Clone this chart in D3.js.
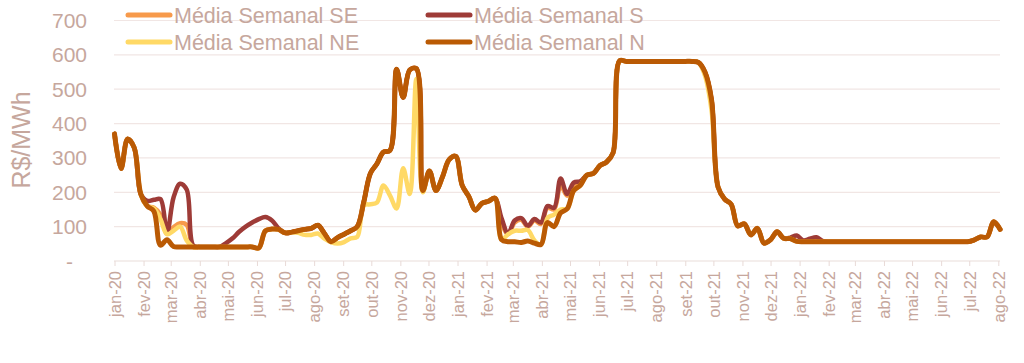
<!DOCTYPE html>
<html>
<head>
<meta charset="utf-8">
<script src="https://cdn.jsdelivr.net/npm/d3@7"></script>
<style>
  body { margin: 0; background: #fff; }
  svg { display: block; font-family: "Liberation Sans", Arial, sans-serif; }
</style>
</head>
<body>
<svg class="chart" width="1024" height="363"></svg>
<script>
// weekly averages, one point per week starting 2020-01-01
var startDate = new Date(2020, 0, 1);

var mediaSE = [370,269,355,330,195,160,155,135,80,98,
  110,105,41,41,41,41,41,41,41,41,
  41,41,38,88,93,92,82,84,88,92,
  95,104,80,56,68,78,88,100,172,255,
  283,317,322,558,476,556,560,205,262,205,
  245,295,305,220,188,148,168,174,183,110,
  78,112,120,100,118,108,155,150,220,190,
  220,228,250,255,278,288,315,583,581,581,
  581,581,581,581,581,581,581,581,581,578,
  550,470,215,180,165,102,108,76,95,52,
  62,85,66,65,57,56,56,56,56,56,
  56,56,56,56,56,56,56,56,56,56,
  56,56,56,56,56,56,56,56,56,56,
  56,61,70,70,114,92];

var mediaS = [370,269,355,330,195,175,178,180,82,185,
  225,208,45,41,41,41,41,52,66,85,
  100,112,122,128,118,95,82,84,88,92,
  95,104,80,56,68,78,88,100,172,255,
  283,317,322,558,476,556,560,205,262,205,
  245,295,305,220,188,148,168,174,183,124,
  80,118,125,102,122,112,160,155,240,195,
  228,232,250,255,278,288,315,583,581,581,
  581,581,581,581,581,581,581,581,581,578,
  550,470,215,180,165,102,108,76,95,52,
  62,85,66,68,74,60,65,69,58,56,
  56,56,56,56,56,56,56,56,56,56,
  56,56,56,56,56,56,56,56,56,56,
  56,61,70,70,114,92];

var mediaNE = [370,269,355,330,195,160,153,122,78,88,
  100,60,41,41,41,41,41,41,41,41,
  41,41,38,88,93,92,82,84,82,76,
  76,80,65,55,51,55,66,70,162,165,
  170,220,190,153,270,195,530,200,262,205,
  245,295,305,220,188,148,168,174,183,62,
  78,88,88,90,60,48,125,135,150,152,
  205,220,250,255,278,288,315,583,581,581,
  581,581,581,581,581,581,581,581,581,578,
  540,440,215,180,165,102,108,76,95,52,
  62,85,66,65,57,56,56,56,56,56,
  56,56,56,56,56,56,56,56,56,56,
  56,56,56,56,56,56,56,56,56,56,
  56,61,70,70,114,92];

var mediaN = [370,269,355,330,195,160,145,46,62,42,
  41,41,41,41,41,41,41,41,41,41,
  41,41,38,88,93,92,82,84,88,92,
  95,104,80,56,68,78,88,100,172,255,
  283,317,322,558,476,556,560,205,262,205,
  245,295,305,220,188,148,168,174,183,62,
  56,56,54,58,52,48,112,100,140,152,
  205,220,250,255,278,288,315,583,581,581,
  581,581,581,581,581,581,581,581,581,578,
  550,470,215,180,165,102,108,76,95,52,
  62,85,66,65,57,56,56,56,56,56,
  56,56,56,56,56,56,56,56,56,56,
  56,56,56,56,56,56,56,56,56,56,
  56,61,70,70,114,92];

var seriesNames = ["Média Semanal SE", "Média Semanal S", "Média Semanal NE", "Média Semanal N"];
var monthNames = ["jan","fev","mar","abr","mai","jun","jul","ago","set","out","nov","dez"];
var yTicks = [0,100,200,300,400,500,600,700];

var colors = ["#F79A4B", "#9E3B37", "#FFD966", "#BA5A04"];
var textColor = "#C6A79D";
var gridColor = "#F1E6E4";

var svg = d3.select(".chart");

var x = d3.scaleTime()
  .domain([new Date(2020, 0, 1), new Date(2022, 7, 1)])
  .range([114.5, 998.3]);
var y = d3.scaleLinear().domain([0, 700]).range([261, 20.5]);

var weekDate = function(i) { return d3.timeDay.offset(startDate, i * 7); };

// gridlines
svg.append("g").selectAll("line").data(yTicks).enter().append("line")
  .attr("x1", 114).attr("x2", 1000)
  .attr("y1", function(d) { return y(d); }).attr("y2", function(d) { return y(d); })
  .attr("stroke", function(d) { return d == 0 ? "#EADDDA" : gridColor; })
  .attr("stroke-width", 1.2);

// y labels
svg.append("g").selectAll("text").data(yTicks).enter().append("text")
  .attr("x", function(d) { return d == 0 ? 73 : 87; })
  .attr("y", function(d) { return y(d); })
  .attr("dy", "0.36em")
  .attr("text-anchor", "end")
  .attr("font-size", 21)
  .attr("fill", textColor)
  .text(function(d) { return d == 0 ? "-" : d; });

svg.append("text")
  .attr("transform", "translate(30,140) rotate(-90)")
  .attr("text-anchor", "middle")
  .attr("font-size", 25)
  .attr("fill", textColor)
  .text("R$/MWh");

// x axis
var xAxis = d3.axisBottom(x)
  .ticks(d3.timeMonth.every(1))
  .tickSize(5)
  .tickFormat(function(d) { return monthNames[d.getMonth()] + "-" + String(d.getFullYear()).slice(2); });

var gx = svg.append("g").attr("transform", "translate(0,261)").call(xAxis);
gx.select(".domain").remove();
gx.selectAll(".tick line").attr("stroke", "#E8DAD7");
gx.selectAll(".tick text")
  .attr("font-family", "Liberation Sans, Arial, sans-serif")
  .attr("font-size", 16.5)
  .attr("fill", textColor)
  .attr("text-anchor", "end")
  .attr("transform", "rotate(-90)")
  .attr("x", -10)
  .attr("y", 0)
  .attr("dy", "0.35em");

// lines
var allSeries = [mediaSE, mediaS, mediaNE, mediaN];
var line = d3.line()
  .x(function(d, i) { return x(weekDate(i)); })
  .y(function(d) { return y(d); })
  .curve(d3.curveCatmullRom.alpha(0.5));

svg.append("g").selectAll("path").data(allSeries).enter().append("path")
  .attr("d", line)
  .attr("fill", "none")
  .attr("stroke", function(d, i) { return colors[i]; })
  .attr("stroke-width", function(d, i) { return i == 3 ? 5 : 4.5; })
  .attr("stroke-linejoin", "round")
  .attr("stroke-linecap", "round");

// legend
var legendPos = [[128, 15], [428, 15], [128, 42], [428, 42]];
var lg = svg.append("g").selectAll("g").data(seriesNames).enter().append("g")
  .attr("transform", function(d, i) { return "translate(" + legendPos[i][0] + "," + legendPos[i][1] + ")"; });
lg.append("line")
  .attr("x1", 0).attr("x2", 42).attr("y1", 0).attr("y2", 0)
  .attr("stroke", function(d, i) { return colors[i]; })
  .attr("stroke-width", 5)
  .attr("stroke-linecap", "round");
lg.append("text")
  .attr("x", 46).attr("y", 0).attr("dy", "0.36em")
  .attr("font-size", 21.5)
  .attr("fill", textColor)
  .text(function(d) { return d; });
</script>
</body>
</html>
